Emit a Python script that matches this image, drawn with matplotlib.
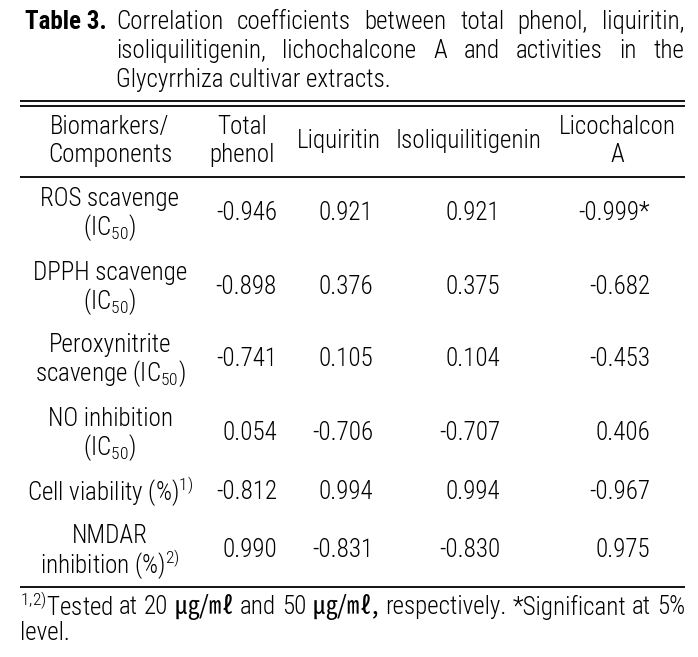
"""Table 3: correlation coefficients between Glycyrrhiza components and activities."""

import matplotlib
matplotlib.use("Agg")
import matplotlib.pyplot as plt
from matplotlib import font_manager

names = {f.name for f in font_manager.fontManager.ttflist}
FONT = next(f for f in ["Roboto Condensed", "PT Sans Narrow", "Fira Sans Condensed", "Lato", "DejaVu Sans"]
            if f in names)
light = any(f.name == FONT and f.weight == 300 for f in font_manager.fontManager.ttflist)
WEIGHT = "light" if light else "normal"

plt.rcParams["font.family"] = [FONT, "Noto Sans CJK KR", "DejaVu Sans"]
plt.rcParams["font.weight"] = WEIGHT
plt.rcParams["mathtext.fontset"] = "custom"
plt.rcParams["mathtext.rm"] = f"{FONT}:{WEIGHT}"
plt.rcParams["mathtext.it"] = f"{FONT}:{WEIGHT}"

TITLE_LINES = [
    "Correlation coefficients between total phenol, liquiritin,",
    "isoliquilitigenin, lichochalcone A and activities in the",
    "Glycyrrhiza cultivar extracts.",
]
HEADERS = [["Biomarkers/", "Components"], ["Total", "phenol"], ["Liquiritin"],
           ["Isoliquilitigenin"], ["Licochalcon", "A"]]
ROW_LABELS = [
    ["ROS scavenge", "(IC$_{50}$)"],
    ["DPPH scavenge", "(IC$_{50}$)"],
    ["Peroxynitrite", "scavenge (IC$_{50}$)"],
    ["NO inhibition", "(IC$_{50}$)"],
    ["Cell viability (%)$^{1)}$"],
    ["NMDAR", "inhibition (%)$^{2)}$"],
]
TOTAL_PHENOL = [-0.946, -0.898, -0.741, 0.054, -0.812, 0.990]
LIQUIRITIN = [0.921, 0.376, 0.105, -0.706, 0.994, -0.831]
ISOLIQUILITIGENIN = [0.921, 0.375, 0.104, -0.707, 0.994, -0.830]
LICOCHALCONE_A = [-0.999, -0.682, -0.453, 0.406, -0.967, 0.975]
LICO_SIGNIFICANT = [True, False, False, False, False, False]
FOOTNOTE = ["$^{1{,}2)}$Tested at 20 ㎍/㎖ and 50 ㎍/㎖, respectively. *Significant at 5%",
            "level."]

W, H = 698, 657

fig = plt.figure(figsize=(W / 100, H / 100), dpi=100)
ax = fig.add_axes([0, 0, 1, 1])
ax.set_xlim(0, W)
ax.set_ylim(H, 0)
ax.axis("off")
renderer = fig.canvas.get_renderer()

# size the font so a number matches the scan (~64 px for "-0.946")
probe = ax.text(0, 0, "-0.946", fontsize=10)
FS = min(10 * 64 / probe.get_window_extent(renderer).width, 18)
probe.remove()


def justified(text, x0, x1, y):
    """Place the words of one line so they fill x0..x1."""
    words = text.split(" ")
    arts = []
    for w in words:
        if "㎍" in w or "㎖" in w:
            # unit glyphs only exist in the CJK font; keep them at a regular weight
            arts.append(ax.text(0, y, w, va="center", ha="left", fontsize=FS,
                                family=["Noto Sans CJK KR", FONT], fontweight="normal"))
        else:
            arts.append(ax.text(0, y, w, va="center", ha="left", fontsize=FS))
    widths = [a.get_window_extent(renderer).width for a in arts]
    gap = (x1 - x0 - sum(widths)) / max(len(words) - 1, 1)
    x = x0
    for a, w in zip(arts, widths):
        a.set_x(x)
        x += w + gap


# caption
ax.text(25, 22, "Table 3.", fontsize=FS, fontweight="bold", va="center", ha="left")
justified(TITLE_LINES[0], 116, 684, 22)
justified(TITLE_LINES[1], 116, 684, 51)
ax.text(116, 80, TITLE_LINES[2], fontsize=FS, va="center", ha="left")

# rules
for y in (101, 106, 177, 587):
    ax.plot([20, 685], [y, y], color="black", lw=1.3, solid_capstyle="butt")

# header
head_x = [110, 242, 339, 469, 617]
for x, lines in zip(head_x, HEADERS):
    if len(lines) == 1:
        ax.text(x, 141, lines[0], fontsize=FS, ha="center", va="center")
    else:
        ax.text(x, 127, lines[0], fontsize=FS, ha="center", va="center")
        ax.text(x, 155, lines[1], fontsize=FS, ha="center", va="center")

# body
row_y = [213, 287, 359, 433, 492, 550]
value_right = [277, 373, 500, 650]
columns = [TOTAL_PHENOL, LIQUIRITIN, ISOLIQUILITIGENIN, LICOCHALCONE_A]
for i, (y, lines) in enumerate(zip(row_y, ROW_LABELS)):
    if len(lines) == 1:
        ax.text(110, y, lines[0], fontsize=FS, ha="center", va="center")
    else:
        ax.text(110, y - 14, lines[0], fontsize=FS, ha="center", va="center")
        ax.text(110, y + 15, lines[1], fontsize=FS, ha="center", va="center")
    for j, (xr, col) in enumerate(zip(value_right, columns)):
        label = f"{col[i]:.3f}"
        if j == 3 and LICO_SIGNIFICANT[i]:
            label += "*"
        ax.text(xr, y, label, fontsize=FS, ha="right", va="center")

# footnote
justified(FOOTNOTE[0], 20, 685, 607)
ax.text(20, 633, FOOTNOTE[1], fontsize=FS, ha="left", va="center")

fig.savefig("out.png", dpi=100, facecolor="white")
